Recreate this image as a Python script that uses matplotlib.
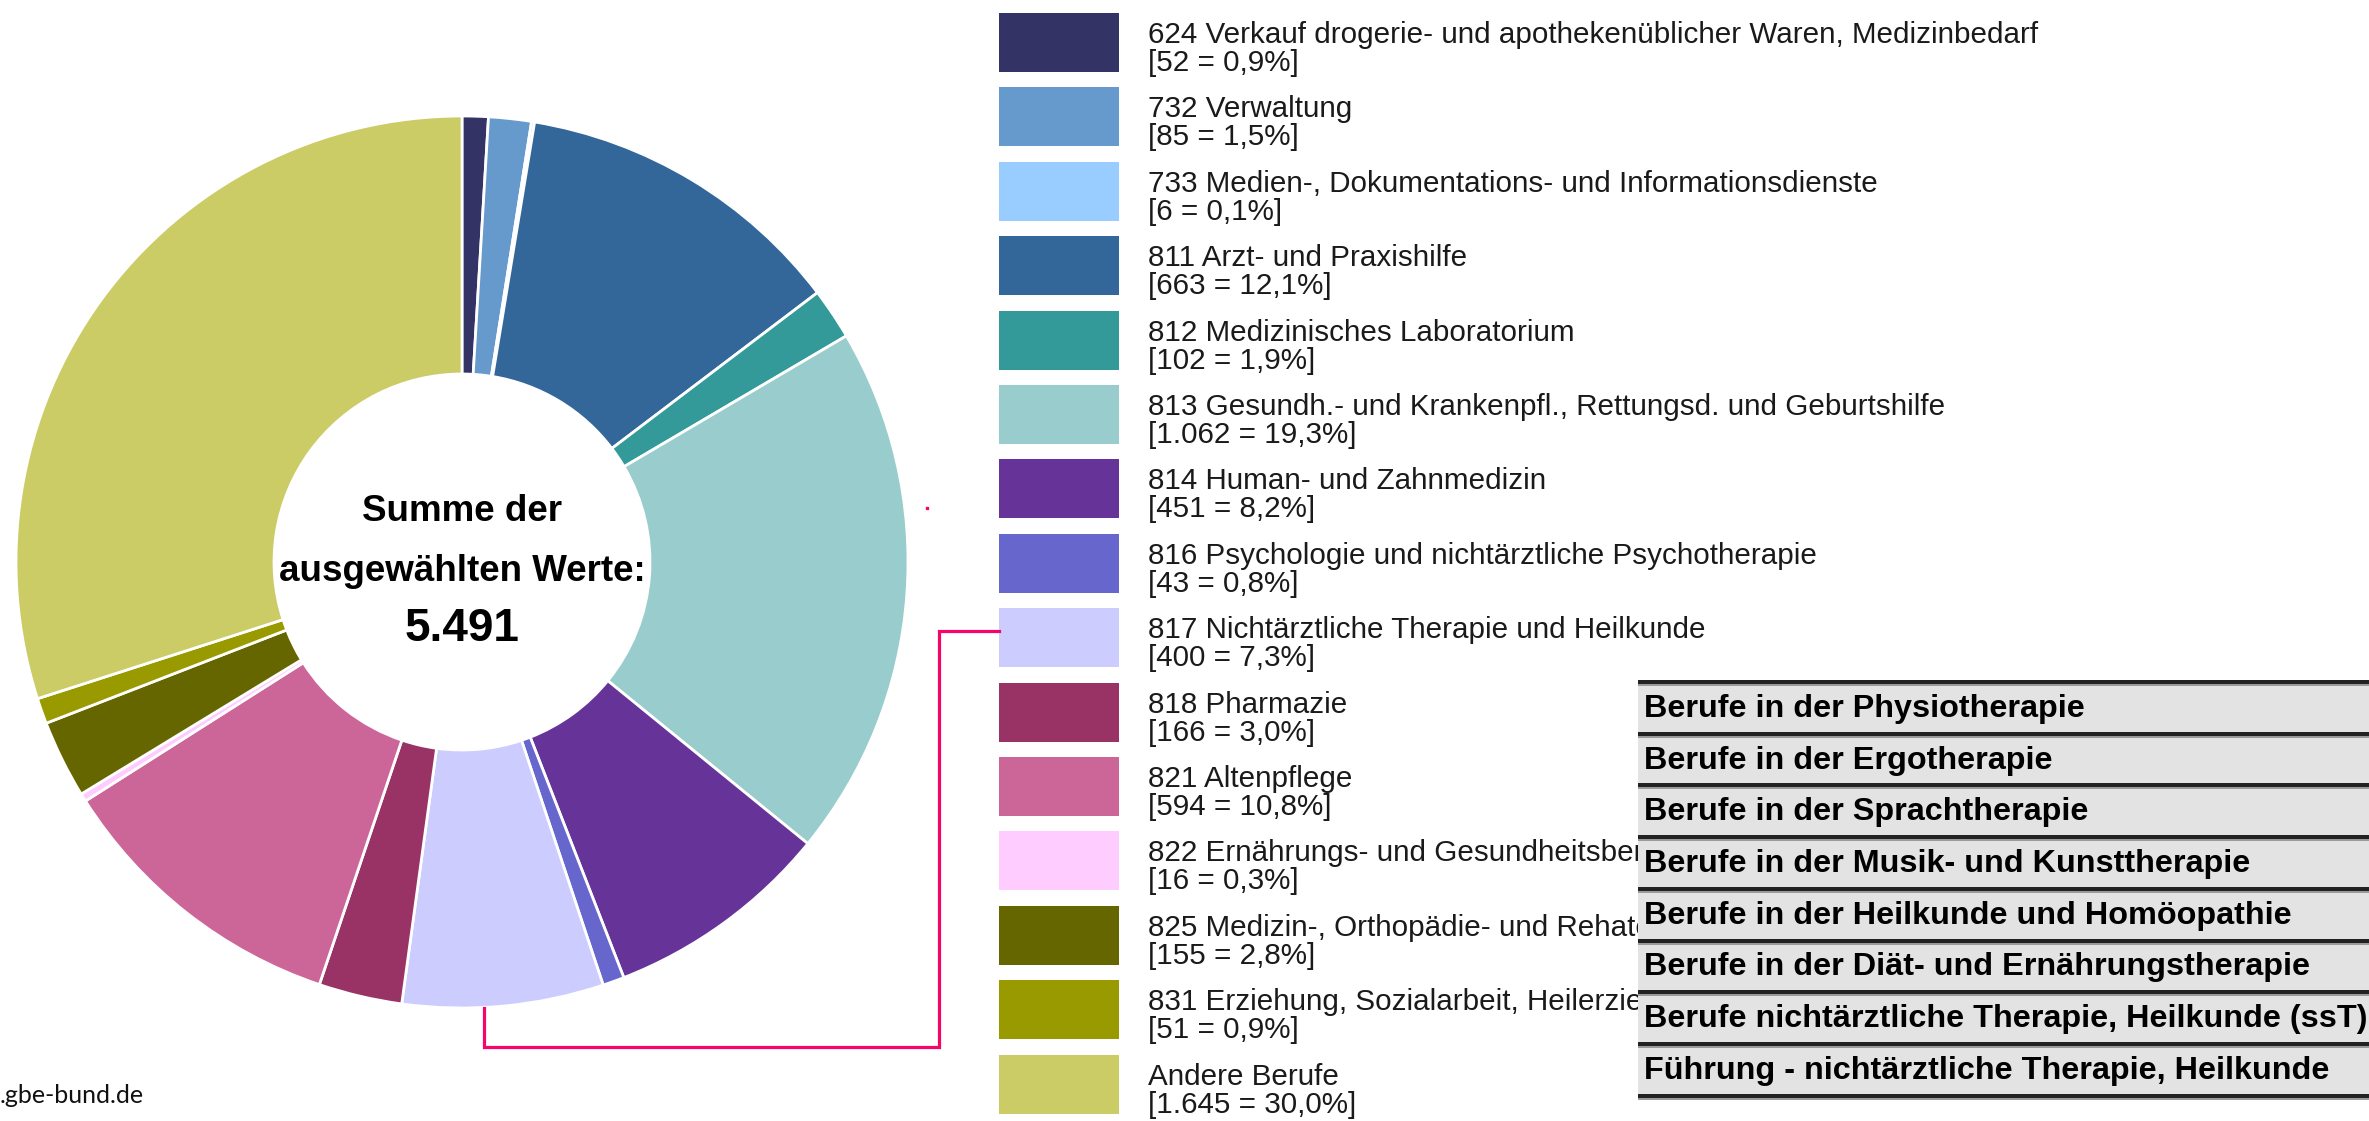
"""
Ringdiagramm: Beschäftigte nach Berufen (gbe-bund.de Nachbau)
"""

import matplotlib.pyplot as plt
from matplotlib.patches import Rectangle

# ============================================================
# Daten
# ============================================================
labels = [
    "624 Verkauf drogerie- und apothekenüblicher Waren, Medizinbedarf",
    "732 Verwaltung",
    "733 Medien-, Dokumentations- und Informationsdienste",
    "811 Arzt- und Praxishilfe",
    "812 Medizinisches Laboratorium",
    "813 Gesundh.- und Krankenpfl., Rettungsd. und Geburtshilfe",
    "814 Human- und Zahnmedizin",
    "816 Psychologie und nichtärztliche Psychotherapie",
    "817 Nichtärztliche Therapie und Heilkunde",
    "818 Pharmazie",
    "821 Altenpflege",
    "822 Ernährungs- und Gesundheitsberatung, Wellness",
    "825 Medizin-, Orthopädie- und Rehatechnik",
    "831 Erziehung, Sozialarbeit, Heilerziehungspflege",
    "Andere Berufe",
]
values = [52, 85, 6, 663, 102, 1062, 451, 43, 400, 166, 594, 16, 155, 51, 1645]
colors = [
    "#333366", "#6699cc", "#99ccff", "#336699", "#339999",
    "#99cccc", "#663399", "#6666cc", "#ccccff", "#993366",
    "#cc6699", "#ffccff", "#666600", "#999900", "#cccc66",
]
box_items = [
    "Berufe in der Physiotherapie",
    "Berufe in der Ergotherapie",
    "Berufe in der Sprachtherapie",
    "Berufe in der Musik- und Kunsttherapie",
    "Berufe in der Heilkunde und Homöopathie",
    "Berufe in der Diät- und Ernährungstherapie",
    "Berufe nichtärztliche Therapie, Heilkunde (ssT)",
    "Führung - nichtärztliche Therapie, Heilkunde",
]
highlight = 8  # 817 -> Verbindungslinie zur Box

# ============================================================
# Hilfsfunktionen
# ============================================================
W, H = 2369, 1121
FONT = ["Liberation Sans", "DejaVu Sans"]
PINK = "#f5056a"


def py(y):
    # Pixel-y (von oben) -> Datenkoordinate (von unten)
    return H - y


def fmt_num(v):
    return f"{v:,}".replace(",", ".")


def fmt_pct(p):
    return f"{p:.1f}%".replace(".", ",")


total = sum(values)

fig = plt.figure(figsize=(W / 100, H / 100), dpi=100)
ax = fig.add_axes([0, 0, 1, 1])

# ============================================================
# Ring
# ============================================================
CX, CY, R_OUT, R_IN = 462, 562, 446, 188
ax.pie(
    values,
    colors=colors,
    startangle=90,
    counterclock=False,
    radius=R_OUT,
    center=(CX, py(CY)),
    wedgeprops=dict(width=R_OUT - R_IN, edgecolor="white", linewidth=2),
)
ax.set_xlim(0, W)
ax.set_ylim(0, H)
ax.set_aspect("auto")
ax.axis("off")

ax.text(CX, py(521), "Summe der", ha="center", va="baseline",
        fontsize=26.5, fontweight="bold", family=FONT)
ax.text(CX, py(581), "ausgewählten Werte:", ha="center", va="baseline",
        fontsize=26.5, fontweight="bold", family=FONT)
ax.text(CX, py(641), fmt_num(total), ha="center", va="baseline",
        fontsize=33, fontweight="bold", family=FONT)

# ============================================================
# Legende
# ============================================================
LX, LY0, PITCH = 999, 13, 74.4
for i, (lab, v, c) in enumerate(zip(labels, values, colors)):
    top = LY0 + i * PITCH
    ax.add_patch(Rectangle((LX, py(top + 59)), 120, 59, facecolor=c,
                           edgecolor="none", zorder=2))
    ax.text(1148, py(top + 30), lab, ha="left", va="baseline",
            fontsize=21.3, color="#1a1a1a", family=FONT, zorder=3)
    ax.text(1148, py(top + 58), f"[{fmt_num(v)} = {fmt_pct(100 * v / total)}]",
            ha="left", va="baseline", fontsize=21.3, color="#1a1a1a",
            family=FONT, zorder=3)

# Verbindungslinie 817 -> Ring
hy = LY0 + highlight * PITCH + 23
xs = [LX, 939, 939, 484, 484]
ys = [hy, hy, 1047, 1047, 1008]
ax.plot(xs, [py(y) for y in ys], color=PINK, lw=2.3, zorder=4,
        solid_joinstyle="miter")
ax.plot([927], [py(508)], marker="s", ms=2, color=PINK, zorder=4)

# ============================================================
# Box mit Unterberufen
# ============================================================
BX, BY0, ROW = 1638, 680, 51.7
for k, item in enumerate(box_items):
    top = BY0 + k * ROW
    ax.add_patch(Rectangle((BX, py(top + ROW)), W - BX, ROW,
                           facecolor="#e3e3e3", edgecolor="none", zorder=5))
    ax.text(1644, py(top + 37), item, ha="left", va="baseline",
            fontsize=23.3, fontweight="bold", color="#000000",
            family=FONT, zorder=7)
for k in range(len(box_items) + 1):
    top = BY0 + k * ROW
    ax.add_patch(Rectangle((BX, py(top + 4)), W - BX, 4,
                           facecolor="#222222", edgecolor="none", zorder=6))
    ax.add_patch(Rectangle((BX, py(top + 6)), W - BX, 2,
                           facecolor="#9a9a9a", edgecolor="none", zorder=6))

# Quelle
ax.text(0, py(1103), ".gbe-bund.de", ha="left", va="baseline",
        fontsize=18, color="#111111", family=["Lato", "DejaVu Sans"])

fig.savefig("out.png", dpi=100, facecolor="white")
